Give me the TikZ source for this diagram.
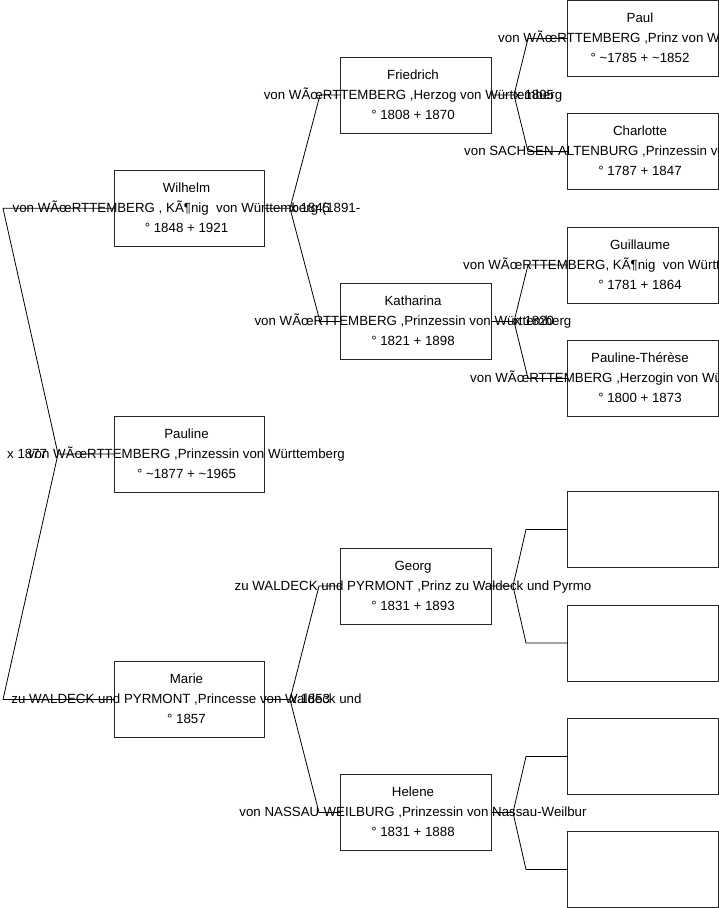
\documentclass[tikz,border=0pt]{standalone}
\usepackage{fontspec}
\setmainfont{Liberation Sans}
\tikzset{
  pbox/.style={draw=black!85, line width=0.9bp, minimum width=150bp, minimum height=76bp, inner sep=0pt, outer sep=0pt},
  pboxb/.style={pbox, minimum width=151bp},
  txt/.style={inner sep=0pt, anchor=base, xshift=-3bp, font=\fontsize{13.3bp}{16bp}\selectfont},
  nm/.style={txt, yshift=16bp},
  tl/.style={txt, yshift=-4bp},
  dt/.style={txt, yshift=-24bp},
  tlw/.style={inner sep=0pt, anchor=base west, yshift=-4bp, font=\fontsize{13.3bp}{16bp}\selectfont},
  conn/.style={draw=black, line width=0.8bp},
}
\newcommand{\tld}{\textasciitilde}
\begin{document}
\begin{tikzpicture}[x=1bp,y=-1bp]
\useasboundingbox (0,0) rectangle (719,908);
% generation 0
\node[pbox] (W) at (189.5,208.3) {};
\node[pbox] (P) at (189.5,454) {};
\node[pbox] (M) at (189.5,699.5) {};
% generation 1
\node[pboxb] (F) at (416,95) {};
\node[pboxb] (K) at (416,321.5) {};
\node[pboxb] (G) at (416,586) {};
\node[pboxb] (H) at (416,812.5) {};
% generation 2
\node[pboxb] (Pa) at (643,38.5) {};
\node[pboxb] (Ch) at (643,151.5) {};
\node[pboxb] (Gu) at (643,265) {};
\node[pboxb] (PT) at (643,378.5) {};
\node[pboxb] (E1) at (643,529.5) {};
\node[pboxb] (E2) at (643,643) {};
\node[pboxb] (E3) at (643,756.5) {};
\node[pboxb] (E4) at (643,869.5) {};

% connectors root
\coordinate (r0) at (58,454);
\coordinate (r1) at (3,208.3);
\coordinate (r2) at (3,699.5);
\draw[conn] (P.west) -- (r0) -- (r1) -- (W.west);
\draw[conn] (r0) -- (r2) -- (M.west);
% gen0 -> gen1
\coordinate (fw) at (290,208.3);
\coordinate (fwa) at (320,95);
\coordinate (fwb) at (320,321.5);
\draw[conn] (W.east) -- (fw) -- (fwa) -- (F.west);
\draw[conn] (fw) -- (fwb) -- (K.west);
\coordinate (fm) at (290,699.5);
\coordinate (fma) at (319,586);
\coordinate (fmb) at (319,812.5);
\draw[conn] (M.east) -- (fm) -- (fma) -- (G.west);
\draw[conn] (fm) -- (fmb) -- (H.west);
% gen1 -> gen2
\coordinate (ff) at (514,95);
\coordinate (ffa) at (528,38.5);
\coordinate (ffb) at (528,151.5);
\draw[conn] (F.east) -- (ff) -- (ffa) -- (Pa.west);
\draw[conn] (ff) -- (ffb) -- (Ch.west);
\coordinate (fk) at (514,321.5);
\coordinate (fka) at (528,265);
\coordinate (fkb) at (528,378.5);
\draw[conn] (K.east) -- (fk) -- (fka) -- (Gu.west);
\draw[conn] (fk) -- (fkb) -- (PT.west);
\coordinate (fg) at (513,586);
\coordinate (fga) at (526,529.5);
\coordinate (fgb) at (526,643);
\draw[conn] (G.east) -- (fg) -- (fga) -- (E1.west);
\draw[conn] (fg) -- (fgb) -- (E2.west);
\coordinate (fh) at (513,812.5);
\coordinate (fha) at (526,756.5);
\coordinate (fhb) at (526,869.5);
\draw[conn] (H.east) -- (fh) -- (fha) -- (E3.west);
\draw[conn] (fh) -- (fhb) -- (E4.west);

% texts gen0
\node[nm] (Wn) at (W) {Wilhelm};
\node[tl] (Wt) at (W) {von WÃœRTTEMBERG , KÃ¶nig\ \ von Württemberg (1891-};
\node[dt] (Wd) at (W) {° 1848 + 1921};
\node[nm] (Pn) at (P) {Pauline};
\node[tl] (Pt) at (P) {von WÃœRTTEMBERG ,Prinzessin von Württemberg};
\node[dt] (Pd) at (P) {° \tld 1877 + \tld 1965};
\node[nm] (Mn) at (M) {Marie};
\node[tl] (Mt) at (M) {zu WALDECK und PYRMONT ,Princesse von Waldeck und};
\node[dt] (Md) at (M) {° 1857};
% texts gen1
\node[nm] (Fn) at (F) {Friedrich};
\node[tl] (Ft) at (F) {von WÃœRTTEMBERG ,Herzog von Württemberg};
\node[dt] (Fd) at (F) {° 1808 + 1870};
\node[nm] (Kn) at (K) {Katharina};
\node[tl] (Kt) at (K) {von WÃœRTTEMBERG ,Prinzessin von Württemberg};
\node[dt] (Kd) at (K) {° 1821 + 1898};
\node[nm] (Gn) at (G) {Georg};
\node[tl] (Gt) at (G) {zu WALDECK und PYRMONT ,Prinz zu Waldeck und Pyrmo};
\node[dt] (Gd) at (G) {° 1831 + 1893};
\node[nm] (Hn) at (H) {Helene};
\node[tl] (Ht) at (H) {von NASSAU-WEILBURG ,Prinzessin von Nassau-Weilbur};
\node[dt] (Hd) at (H) {° 1831 + 1888};
% texts gen2
\node[nm] (Pan) at (Pa) {Paul};
\node[tlw] (Pat) at (498,38.5) {von WÃœRTTEMBERG ,Prinz von Württemberg};
\node[dt] (Pad) at (Pa) {° \tld 1785 + \tld 1852};
\node[nm] (Chn) at (Ch) {Charlotte};
\node[tlw] (Cht) at (464,151.5) {von SACHSEN-ALTENBURG ,Prinzessin von Sachsen-Hildburghausen};
\node[dt] (Chd) at (Ch) {° 1787 + 1847};
\node[nm] (Gun) at (Gu) {Guillaume};
\node[tlw] (Gut) at (463,265) {von WÃœRTTEMBERG, KÃ¶nig\ \ von Württemberg};
\node[dt] (Gud) at (Gu) {° 1781 + 1864};
\node[nm] (PTn) at (PT) {Pauline-Thérèse};
\node[tlw] (PTt) at (470,378.5) {von WÃœRTTEMBERG ,Herzogin von Württemberg};
\node[dt] (PTd) at (PT) {° 1800 + 1873};

% marriage labels
\node[tlw] (x0) at (7,454) {x 1877};
\node[tlw] (x1) at (fw) {x 1845};
\node[tlw] (x2) at (fm) {x 1853};
\node[tlw] (x3) at (ff) {x 1805};
\node[tlw] (x4) at (fk) {x 1820};
\end{tikzpicture}
\end{document}
